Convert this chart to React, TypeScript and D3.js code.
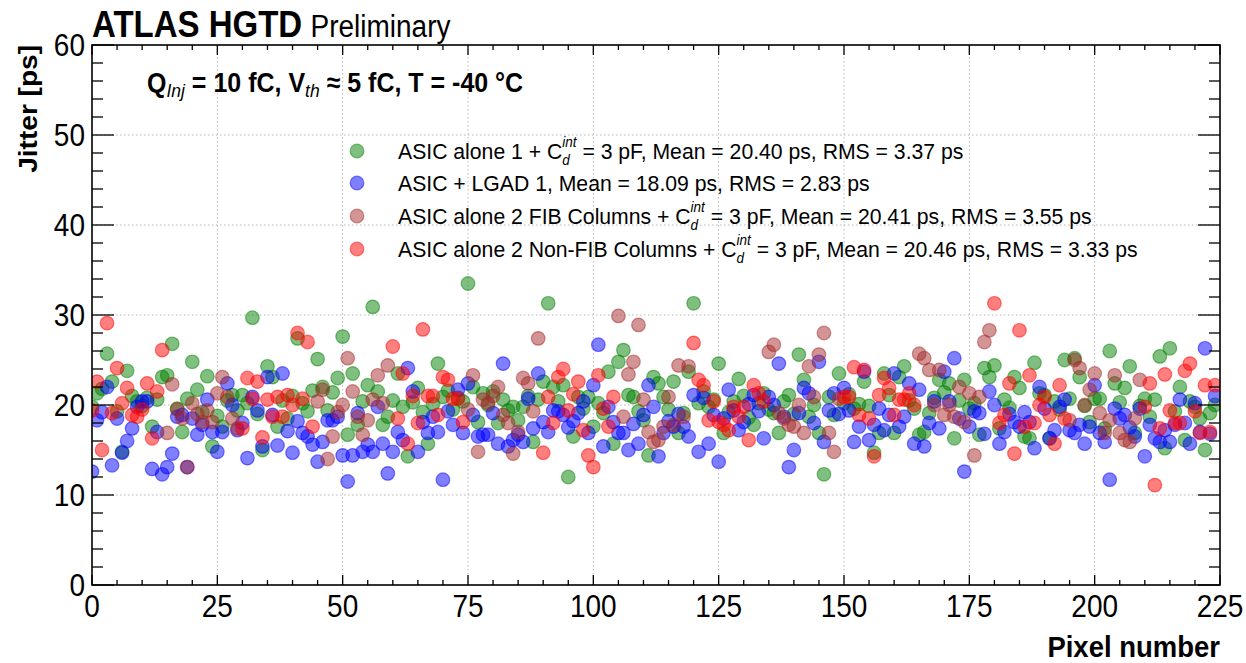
import React, { useEffect, useRef } from 'react';
import * as d3 from 'd3';

const W = 1246;
const H = 663;
const FONT = '"Liberation Sans", Arial, Helvetica, sans-serif';
const SY = 1.1; // vertical stretch of the lettering in the reference

const xDomain = [0, 225];
const yDomain = [0, 60];
const xMajorTicks = [0, 25, 50, 75, 100, 125, 150, 175, 200, 225];
const yMajorTicks = [0, 10, 20, 30, 40, 50, 60];

// ASIC alone 1 + Cd = 3 pF : jitter per pixel 0..224
const asicAlone1 = [
  19.8, 21.3, 21.8, 25.7, 22.6, 19.3, 14.8, 23.8, 21.0, 20.4, 19.9, 20.8, 17.6, 20.6, 23.1,
  23.3, 26.8, 19.6, 17.0, 20.7, 24.8, 21.7, 19.2, 23.2, 15.4, 18.8, 17.6, 20.5, 21.1, 19.4,
  21.1, 20.2, 29.7, 19.0, 15.0, 24.3, 23.1, 17.6, 20.5, 18.5, 21.0, 27.4, 20.2, 19.3, 21.6,
  25.1, 22.0, 19.4, 21.4, 23.0, 27.6, 16.7, 23.5, 17.8, 20.4, 22.2, 30.9, 21.5, 17.8, 18.7,
  20.5, 23.5, 19.8, 14.3, 20.3, 21.9, 19.2, 15.7, 20.1, 24.6, 20.9, 21.6, 19.5, 20.8, 20.4,
  33.5, 22.0, 18.1, 21.3, 20.0, 21.5, 18.0, 20.6, 19.4, 19.8, 18.3, 19.8, 21.0, 15.9, 20.6,
  22.6, 31.3, 22.0, 20.4, 22.2, 12.0, 16.5, 20.9, 19.6, 20.9, 17.6, 20.2, 19.1, 23.7, 15.7,
  24.8, 26.1, 21.1, 20.9, 19.3, 18.3, 14.4, 23.1, 22.4, 20.9, 19.5, 22.6, 16.9, 19.1, 23.7,
  31.3, 20.2, 21.5, 19.8, 20.6, 24.6, 16.9, 19.2, 20.4, 22.9, 21.0, 18.6, 17.8, 20.2, 21.3,
  19.5, 19.1, 16.9, 20.4, 21.1, 19.0, 25.6, 22.8, 18.7, 20.0, 16.9, 12.3, 20.9, 18.9, 23.5,
  20.2, 21.2, 19.6, 20.1, 22.6, 19.9, 14.7, 16.9, 23.5, 21.1, 16.9, 23.1, 24.3, 20.5, 19.6,
  16.7, 17.0, 19.1, 20.8, 22.8, 21.4, 22.4, 16.3, 20.5, 22.8, 19.6, 20.2, 16.7, 24.1, 23.1,
  24.4, 17.4, 20.6, 19.7, 23.1, 21.9, 16.5, 16.3, 24.7, 21.3, 21.1, 16.3, 20.4, 19.5, 25.0,
  20.7, 25.2, 23.1, 19.9, 18.1, 20.7, 20.7, 17.4, 26.0, 22.4, 20.3, 21.9, 24.3, 16.9, 19.9,
  20.7, 18.7, 20.6, 25.4, 15.2, 26.3, 19.3, 22.0, 16.1, 20.4, 19.8, 18.5, 15.0, 19.1, 20.0,
];

// ASIC + LGAD 1 : jitter per pixel 0..224
const asicLgad1 = [
  12.6, 18.3, 19.2, 22.0, 13.3, 18.5, 14.7, 16.0, 17.4, 19.8, 20.4, 20.4, 12.9, 17.0, 12.3,
  13.1, 14.6, 18.7, 18.9, 13.1, 18.5, 16.7, 17.8, 20.6, 17.0, 14.8, 17.0, 22.4, 20.0, 17.2,
  18.0, 14.1, 20.9, 19.4, 15.4, 23.1, 18.9, 15.5, 23.5, 17.1, 14.7, 18.2, 16.9, 16.5, 15.6,
  13.7, 15.9, 18.3, 18.3, 18.7, 14.4, 11.5, 14.4, 19.1, 14.8, 15.6, 14.8, 19.8, 15.7, 12.4,
  14.8, 17.0, 16.1, 24.1, 21.5, 14.8, 18.1, 16.9, 18.7, 17.0, 11.7, 19.3, 17.8, 21.7, 16.9,
  22.4, 18.9, 16.5, 16.7, 16.7, 19.1, 15.7, 24.6, 15.4, 16.1, 16.7, 15.9, 20.7, 17.4, 23.5,
  18.1, 17.0, 19.4, 19.3, 18.9, 17.5, 18.2, 19.1, 20.4, 16.9, 22.2, 26.7, 15.4, 19.8, 18.1,
  16.9, 16.9, 15.0, 17.9, 15.7, 18.9, 22.2, 19.8, 14.3, 16.9, 18.2, 17.6, 19.0, 17.6, 16.5,
  21.1, 14.8, 20.8, 15.7, 18.9, 13.7, 18.5, 21.7, 19.4, 17.2, 18.1, 20.1, 21.1, 19.3, 16.3,
  20.9, 20.0, 24.6, 18.7, 13.1, 15.0, 19.1, 21.9, 21.3, 18.0, 24.8, 15.9, 19.4, 21.3, 19.0,
  21.9, 19.4, 15.9, 17.6, 23.7, 16.1, 17.8, 19.6, 17.2, 18.9, 23.5, 17.6, 18.7, 22.4, 15.7,
  21.7, 15.4, 18.0, 20.4, 17.4, 23.7, 20.4, 25.2, 18.5, 12.6, 17.6, 19.3, 19.1, 16.8, 21.5,
  20.0, 15.7, 17.0, 19.0, 18.1, 17.6, 19.2, 18.1, 15.2, 22.0, 19.6, 16.3, 17.2, 19.8, 20.6,
  17.2, 16.9, 17.8, 15.7, 17.6, 22.2, 16.9, 15.9, 11.7, 19.6, 18.5, 18.9, 17.5, 16.5, 19.6,
  14.3, 17.8, 16.3, 15.9, 17.2, 15.9, 17.8, 20.6, 18.0, 15.7, 20.2, 17.0, 26.3, 16.8, 21.0,
];

// ASIC alone 2, FIB columns: first pixel of each block of 15 pixels and the values
const fibBlockStarts = [15, 45, 75, 105, 135, 165, 195];
const fibValues = [
  [16.9, 22.3, 19.5, 18.5, 13.1, 20.2, 19.0, 18.1, 19.4, 18.1, 21.3, 23.1, 20.9, 18.5, 17.4],
  [20.4, 21.7, 14.0, 16.5, 19.2, 20.0, 25.2, 21.5, 18.7, 16.7, 18.3, 20.6, 23.3, 20.2, 24.4],
  [19.5, 23.3, 14.8, 20.6, 20.2, 21.0, 22.0, 18.9, 18.0, 14.6, 17.0, 23.0, 22.4, 19.3, 27.4],
  [29.9, 18.7, 23.4, 24.8, 28.9, 20.6, 17.0, 15.9, 16.1, 17.6, 20.9, 17.8, 24.4, 18.7, 24.3],
  [25.9, 26.7, 19.1, 18.5, 17.8, 17.6, 20.0, 16.9, 24.3, 20.9, 25.6, 28.0, 16.9, 14.8, 20.7],
  [25.7, 25.2, 23.9, 20.0, 23.9, 18.9, 20.0, 18.7, 22.0, 18.1, 21.3, 14.4, 20.9, 27.0, 28.3],
  [18.3, 25.0, 24.1, 20.0, 21.7, 23.5, 19.1, 16.9, 18.3, 23.3, 16.9, 16.1, 15.9, 18.5, 22.8],
];

// ASIC alone 2, Non-FIB columns
const nonFibBlockStarts = [0, 30, 60, 90, 120, 150, 180, 210];
const nonFibValues = [
  [19.4, 22.6, 15.0, 29.1, 19.1, 24.1, 20.2, 21.9, 18.9, 18.7, 19.5, 22.4, 16.3, 21.5, 26.1],
  [17.4, 23.0, 20.7, 22.6, 16.4, 20.6, 18.7, 20.9, 18.7, 21.1, 20.0, 28.0, 20.7, 27.0, 17.6],
  [26.5, 18.5, 23.5, 15.7, 21.0, 18.0, 28.4, 21.0, 21.0, 18.9, 23.1, 22.8, 20.7, 20.7, 18.1],
  [14.7, 20.9, 18.0, 23.1, 24.0, 19.4, 21.2, 22.6, 17.2, 14.4, 13.1, 23.3, 19.6, 17.6, 20.9],
  [26.9, 22.8, 22.2, 18.3, 20.4, 18.1, 17.8, 17.2, 19.8, 18.7, 19.8, 16.1, 22.2, 21.3, 20.4],
  [20.9, 20.9, 24.2, 18.9, 23.9, 18.5, 14.3, 21.1, 23.0, 21.9, 18.9, 20.6, 20.6, 21.3, 20.0],
  [31.3, 18.0, 18.9, 22.4, 14.6, 28.3, 17.6, 23.3, 18.0, 20.0, 20.9, 18.9, 15.7, 22.2, 18.5],
  [19.8, 22.4, 11.1, 17.4, 23.4, 19.4, 18.0, 18.0, 23.8, 24.6, 19.3, 16.9, 22.2, 17.0, 22.2],
];

const seriesColors = ['#008000', '#0000ff', '#a52a2a', '#ff0000'];
const legendPrefixes = ['ASIC alone 1 + C', 'ASIC + LGAD 1, Mean = 18.09 ps, RMS = 2.83 ps', 'ASIC alone 2 FIB Columns + C', 'ASIC alone 2 Non-FIB Columns + C'];
const legendSuffixes = [' = 3 pF, Mean = 20.40 ps, RMS = 3.37 ps', '', ' = 3 pF, Mean = 20.41 ps, RMS = 3.55 ps', ' = 3 pF, Mean = 20.46 ps, RMS = 3.33 ps'];
const legendHasCd = [true, false, true, true];

type Pt = { p: number; v: number };

function blocksToPoints(starts: number[], vals: number[][]): Pt[] {
  const out: Pt[] = [];
  starts.forEach((s, bi) => vals[bi].forEach((v, k) => out.push({ p: s + k, v })));
  return out;
}

type Piece = { t: string; size: number; weight?: string; style?: string; dy?: number; stack?: boolean };

function rich(parent: any, x: number, y: number, pieces: Piece[], sy = SY) {
  const g = parent.append('g').attr('transform', `translate(${x},${y}) scale(1,${sy})`);
  let cx = 0;
  let pending = 0;
  for (const pc of pieces) {
    const el = g
      .append('text')
      .attr('x', cx)
      .attr('y', pc.dy || 0)
      .attr('font-family', FONT)
      .attr('font-size', pc.size)
      .attr('font-weight', pc.weight || 'normal')
      .attr('font-style', pc.style || 'normal')
      .attr('fill', '#000')
      .style('white-space', 'pre')
      .text(pc.t);
    const w = (el.node() as SVGTextElement).getComputedTextLength();
    if (pc.stack) {
      pending = Math.max(pending, w);
    } else {
      cx += Math.max(w, pending);
      pending = 0;
    }
  }
  return cx;
}

function label(parent: any, x: number, y: number, txt: string, size: number, anchor: string, weight = 'normal') {
  parent
    .append('text')
    .attr('transform', `translate(${x},${y}) scale(1,${SY})`)
    .attr('text-anchor', anchor)
    .attr('font-family', FONT)
    .attr('font-size', size)
    .attr('font-weight', weight)
    .attr('fill', '#000')
    .text(txt);
}

export default function App() {
  const ref = useRef<SVGSVGElement>(null);

  useEffect(() => {
    const svg = d3.select(ref.current as SVGSVGElement);
    svg.selectAll('*').remove();

    const L = 92, R = 1220, T = 45, B = 585;
    const x = d3.scaleLinear().domain(xDomain).range([L, R]);
    const y = d3.scaleLinear().domain(yDomain).range([B, T]);

    svg.append('rect').attr('width', W).attr('height', H).attr('fill', '#fff');

    // grid
    const grid = svg.append('g');
    xMajorTicks.slice(1, -1).forEach((t) => {
      grid.append('line').attr('x1', x(t)).attr('x2', x(t)).attr('y1', T).attr('y2', B)
        .attr('stroke', '#b8b8b8').attr('stroke-width', 1).attr('stroke-dasharray', '1.5,2.5');
    });
    yMajorTicks.slice(1, -1).forEach((t) => {
      grid.append('line').attr('x1', L).attr('x2', R).attr('y1', y(t)).attr('y2', y(t))
        .attr('stroke', '#b8b8b8').attr('stroke-width', 1).attr('stroke-dasharray', '1.5,2.5');
    });

    svg.append('defs').append('clipPath').attr('id', 'plotclip')
      .append('rect').attr('x', L).attr('y', T).attr('width', R - L).attr('height', B - T);

    const series: Pt[][] = [
      asicAlone1.map((v, p) => ({ p, v })),
      asicLgad1.map((v, p) => ({ p, v })),
      blocksToPoints(fibBlockStarts, fibValues),
      blocksToPoints(nonFibBlockStarts, nonFibValues),
    ];

    const pts = svg.append('g').attr('clip-path', 'url(#plotclip)');
    const r = 6.8;
    series.forEach((s, i) => {
      pts.append('g').selectAll('circle').data(s).enter().append('circle')
        .attr('cx', (d) => x(d.p))
        .attr('cy', (d) => y(d.v))
        .attr('r', r)
        .attr('fill', seriesColors[i])
        .attr('fill-opacity', 0.5)
        .attr('stroke', seriesColors[i])
        .attr('stroke-opacity', 0.5)
        .attr('stroke-width', 1.2);
    });

    // frame
    svg.append('rect').attr('x', L).attr('y', T).attr('width', R - L).attr('height', B - T)
      .attr('fill', 'none').attr('stroke', '#000').attr('stroke-width', 1.6);

    const ticks = svg.append('g').attr('stroke', '#000').attr('stroke-width', 1.3);
    d3.range(0, 226, 5).forEach((t) => {
      const major = t % 25 === 0;
      const len = major ? 10 : 5;
      ticks.append('line').attr('x1', x(t)).attr('x2', x(t)).attr('y1', B).attr('y2', B - len);
      ticks.append('line').attr('x1', x(t)).attr('x2', x(t)).attr('y1', T).attr('y2', T + len);
    });
    d3.range(0, 61, 2).forEach((t) => {
      const major = t % 10 === 0;
      const len = major ? 22 : 11;
      ticks.append('line').attr('x1', L).attr('x2', L + len).attr('y1', y(t)).attr('y2', y(t));
      ticks.append('line').attr('x1', R).attr('x2', R - len).attr('y1', y(t)).attr('y2', y(t));
    });

    // tick labels
    const tl = svg.append('g');
    xMajorTicks.forEach((t) => label(tl, x(t), 617, String(t), 28, 'middle'));
    yMajorTicks.forEach((t) => label(tl, 85, y(t) + 11, String(t), 28, 'end'));

    // axis titles
    label(svg, R, 657, 'Pixel number', 27.5, 'end', 'bold');
    svg.append('text').attr('transform', `translate(37,${T}) rotate(-90) scale(${SY},1)`).attr('text-anchor', 'end')
      .attr('font-family', FONT).attr('font-size', 25.5).attr('font-weight', 'bold').text('Jitter [ps]');

    // title
    rich(svg, 92, 37, [
      { t: 'ATLAS HGTD', size: 33, weight: 'bold' },
      { t: ' ', size: 30 },
      { t: 'Preliminary', size: 28 },
    ], 1.13);

    // conditions annotation
    rich(svg, 147, 92, [
      { t: 'Q', size: 25, weight: 'bold' },
      { t: 'Inj', size: 17.5, style: 'italic', dy: 4.5 },
      { t: ' = 10 fC, V', size: 25, weight: 'bold' },
      { t: 'th', size: 17.5, style: 'italic', dy: 4.5 },
      { t: ' ≈ 5 fC, T = -40 °C', size: 25, weight: 'bold' },
    ]);

    // legend
    const legY = [151, 183, 216, 249];
    const lg = svg.append('g');
    legY.forEach((ly, i) => {
      lg.append('circle').attr('cx', 357).attr('cy', ly).attr('r', r)
        .attr('fill', seriesColors[i]).attr('fill-opacity', 0.5)
        .attr('stroke', seriesColors[i]).attr('stroke-opacity', 0.5).attr('stroke-width', 1.2);
      const pieces: Piece[] = [{ t: legendPrefixes[i], size: 21.2 }];
      if (legendHasCd[i]) {
        pieces.push({ t: 'int', size: 13.5, style: 'italic', dy: -10.5, stack: true });
        pieces.push({ t: 'd', size: 13.5, style: 'italic', dy: 6 });
        pieces.push({ t: legendSuffixes[i], size: 21.2 });
      }
      rich(lg, 398, ly + 7.5, pieces, 1.06);
    });
  }, []);

  return <svg ref={ref} width={W} height={H} style={{ position: 'absolute', left: 0, top: 0 }} />;
}
